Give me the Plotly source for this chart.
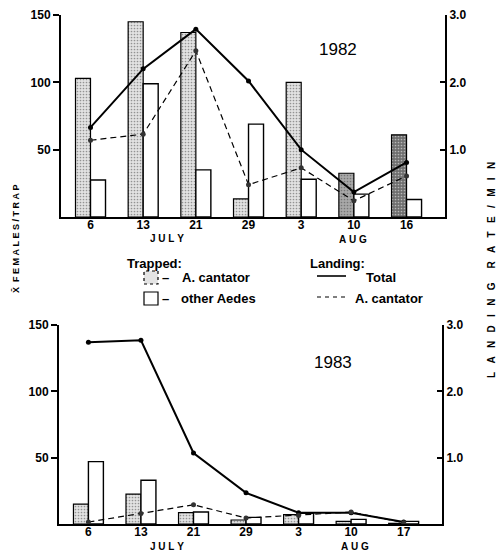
import plotly.graph_objects as go

W, H = 499, 552

# ---------------- data ----------------
weeks_1982 = ["6", "13", "21", "29", "3", "10", "16"]
weeks_1983 = ["6", "13", "21", "29", "3", "10", "17"]

cantator_trap_1982 = [103, 145, 137, 13.5, 100, 32.5, 61]
other_trap_1982 = [27.5, 99, 35, 69, 28, 17, 13]
landing_total_1982 = [1.33, 2.2, 2.79, 2.02, 1.0, 0.37, 0.81]
landing_cantator_1982 = [1.14, 1.23, 2.47, 0.48, 0.73, 0.24, 0.61]

cantator_trap_1983 = [15, 22.5, 8.5, 3, 7, 2, 0.5]
other_trap_1983 = [47, 33, 9, 5, 8, 3.5, 2]
landing_total_1983 = [2.74, 2.77, 1.07, 0.47, 0.17, 0.17, 0.03]
landing_cantator_1983 = [0.03, 0.16, 0.29, 0.09, 0.13, 0.18, 0.02]

cantator_shade_1982 = ["#e2e2e2", "#e2e2e2", "#e2e2e2", "#e2e2e2", "#e2e2e2", "#a8a8a8", "#6e6e6e"]
cantator_dots_1982 = ["#999999", "#999999", "#999999", "#999999", "#999999", "#666666", "#333333"]
cantator_shade_1983 = ["#e2e2e2"] * 7
cantator_dots_1983 = ["#999999"] * 7

idx = list(range(7))
FONT = "Liberation Sans"


def px(x, y):
    return x / W, 1 - y / H


fig = go.Figure()


def add_panel(xa, ya, ya2, cant, other, tot, lcan, shades, dots):
    fig.add_trace(go.Bar(
        x=idx, y=cant, offset=-0.285, width=0.285, xaxis=xa, yaxis=ya,
        marker=dict(color=shades, line=dict(color="black", width=1.2),
                    pattern=dict(shape=".", fgcolor=dots, size=3, solidity=0.25,
                                 fillmode="overlay")),
        showlegend=False))
    fig.add_trace(go.Bar(
        x=idx, y=other, offset=0, width=0.285, xaxis=xa, yaxis=ya,
        marker=dict(color="white", line=dict(color="black", width=1.4)),
        showlegend=False))
    fig.add_trace(go.Scatter(
        x=idx, y=tot, xaxis=xa, yaxis=ya2, mode="lines+markers",
        line=dict(color="black", width=2),
        marker=dict(size=5, color="black"), showlegend=False))
    fig.add_trace(go.Scatter(
        x=idx, y=lcan, xaxis=xa, yaxis=ya2, mode="lines+markers",
        line=dict(color="black", width=1.2, dash="6px,4px"),
        marker=dict(size=5, color="#333333"), showlegend=False))


add_panel("x", "y", "y2", cantator_trap_1982, other_trap_1982,
          landing_total_1982, landing_cantator_1982, cantator_shade_1982, cantator_dots_1982)
add_panel("x3", "y3", "y4", cantator_trap_1983, other_trap_1983,
          landing_total_1983, landing_cantator_1983, cantator_shade_1983, cantator_dots_1983)

tickfont_b = dict(family=FONT, size=12, color="black", weight="bold")

common_x = dict(range=[-0.56, 6.73], tickvals=idx, showline=True, linecolor="black",
                linewidth=2, ticks="", showgrid=False, zeroline=False,
                tickfont=tickfont_b, fixedrange=True, automargin=False,
                ticklabelstandoff=-4)
common_yl = dict(range=[0, 150], tickvals=[50, 100, 150], ticks="outside", ticklen=6,
                 tickwidth=1.5, tickcolor="black", showline=True, linecolor="black",
                 linewidth=2, showgrid=False, zeroline=False, tickfont=tickfont_b,
                 automargin=False)
common_yr = dict(range=[0, 3], tickvals=[1, 2, 3], ticktext=["1.0", "2.0", "3.0"],
                 side="right", ticks="inside", ticklen=5, tickwidth=1.5, tickcolor="black",
                 showline=True, linecolor="black", linewidth=2, showgrid=False,
                 zeroline=False, tickfont=tickfont_b, automargin=False)

fig.update_layout(
    width=W, height=H,
    margin=dict(l=0, r=0, t=0, b=0, autoexpand=False),
    paper_bgcolor="white", plot_bgcolor="white",
    barmode="overlay",
    xaxis=dict(domain=[61 / W, 445 / W], anchor="y", ticktext=weeks_1982, **common_x),
    yaxis=dict(domain=[1 - 217 / H, 1 - 15 / H], anchor="x", **common_yl),
    yaxis2=dict(overlaying="y", anchor="x", **common_yr),
    xaxis3=dict(domain=[59 / W, 442 / W], anchor="y3", ticktext=weeks_1983, **common_x),
    yaxis3=dict(domain=[1 - 524 / H, 1 - 325 / H], anchor="x3", **common_yl),
    yaxis4=dict(overlaying="y3", anchor="x3", **common_yr),
)

ann = []


def text(x, y, t, size=11, bold=True, xanchor="center", angle=0, family=FONT):
    ax, ay = px(x, y)
    ann.append(dict(x=ax, y=ay, xref="paper", yref="paper", text=t, showarrow=False,
                    xanchor=xanchor, yanchor="middle", textangle=angle,
                    font=dict(family=family, size=size, color="black",
                              weight="bold" if bold else "normal")))


NB = "\u00a0"
text(338, 50, "1982", size=17, bold=False)
text(333, 362, "1983", size=17, bold=False)
text(167, 238, NB.join("JULY"), size=10)
text(353, 239, NB.join("AUG"), size=10)
text(167, 546, NB.join("JULY"), size=10)
text(355, 546, NB.join("AUG"), size=10)

# Legend (centre-anchored)
text(154, 263, "Trapped:", size=13)
text(165, 277, "–", size=13)
text(216, 277, "A. cantator", size=13)
text(165, 298, "–", size=13)
text(218, 298, "other Aedes", size=13)
text(337, 263, "Landing:", size=13)
text(381, 277, "Total", size=13)
text(389, 298, "A. cantator", size=13)

# Axis titles
left_title = "X\u0304" + NB * 2 + NB.join("FEMALES/TRAP")
right_title = (NB * 3).join("LANDING") + NB * 5 + (NB * 3).join("RATE/MIN")
text(16, 239, left_title, size=9, angle=-90)
text(491, 270, right_title, size=10, angle=-90)

shapes = []


def rect(x0, y0, x1, y1, fill, dash="solid"):
    a0, b0 = px(x0, y0)
    a1, b1 = px(x1, y1)
    shapes.append(dict(type="rect", xref="paper", yref="paper", x0=a0, y0=b1, x1=a1, y1=b0,
                       line=dict(color="black", width=1.2, dash=dash), fillcolor=fill))


def hline(x0, x1, y, width, dash="solid"):
    a0, b = px(x0, y)
    a1, _ = px(x1, y)
    shapes.append(dict(type="line", xref="paper", yref="paper", x0=a0, y0=b, x1=a1, y1=b,
                       line=dict(color="black", width=width, dash=dash)))


rect(144, 271, 158, 284, "#e4e4e4", dash="dot")
rect(144, 292, 158, 305, "white")
hline(317, 346, 276, 1.6)
hline(317, 346, 297, 1.2, dash="4px,4px")

fig.update_layout(annotations=ann, shapes=shapes)

fig.write_html("out.html", config={"displayModeBar": False},
               post_script="document.body.style.margin='0';document.body.style.overflow='hidden';")
